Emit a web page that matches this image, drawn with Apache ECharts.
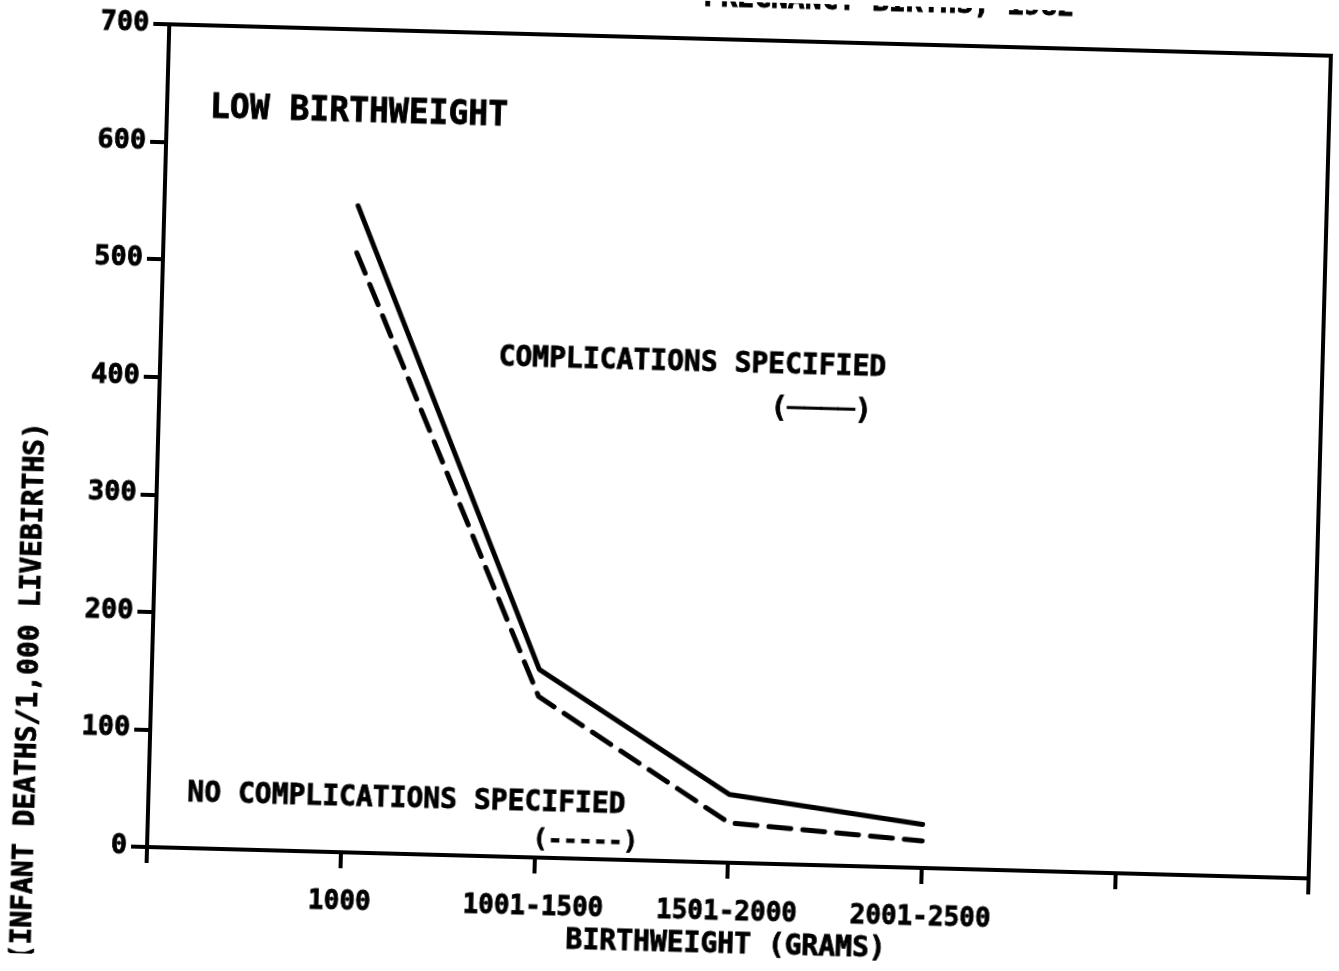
<!DOCTYPE html>
<html>
<head>
<meta charset="utf-8">
<title>Low birthweight infant deaths</title>
<script src="https://cdn.jsdelivr.net/npm/echarts/dist/echarts.min.js"></script>
<style>
    html, body { margin: 0; padding: 0; background: #fff; overflow: hidden; }
    /* the scanned original sits slightly askew */
    #chart { width: 1339px; height: 971px; transform: rotate(1.55deg); transform-origin: 50% 50%; }
</style>
</head>
<body>
<div id="chart"></div>
<script>
// categories on the x axis (placed at positions 1..4 of a 0..6 axis)
var categories = ['1000', '1001-1500', '1501-2000', '2001-2500'];
var categoryPos = [1, 2, 3, 4];
// infant deaths per 1,000 livebirths
var withComplications = [550, 160, 58, 37];
var noComplications = [510, 137, 34, 23];
var yTicks = [0, 100, 200, 300, 400, 500, 600, 700];

var FONT = "'DejaVu Sans Mono', 'Liberation Mono', monospace";

function toPairs(values){
    return values.map(function(v, i){ return [categoryPos[i], v]; });
}

// bold plotter-like text, slightly stroked to look heavier
function label(text, x, y, size, rotation){
    return {
        type: 'text',
        x: x,
        y: y,
        rotation: rotation || 0,
        style: {
            text: text,
            fill: '#000',
            stroke: '#000',
            lineWidth: 0.8,
            fontFamily: FONT,
            fontWeight: 'bold',
            fontSize: size,
            align: 'center',
            verticalAlign: 'middle',
            textAlign: 'center',
            textVerticalAlign: 'middle'
        }
    };
}

var tickText = {
    color: '#000',
    fontFamily: FONT,
    fontWeight: 'bold',
    textBorderColor: '#000',
    textBorderWidth: 0.8
};

var chart = echarts.init(document.getElementById('chart'));

var option = {
    backgroundColor: '#fff',
    animation: false,
    grid: {
        left: 157,
        right: 20,
        top: 38,
        bottom: 110,
        show: true,
        borderColor: '#000',
        borderWidth: 4
    },
    xAxis: {
        type: 'value',
        min: 0,
        max: 6,
        interval: 1,
        name: 'BIRTHWEIGHT (GRAMS)',
        nameLocation: 'middle',
        nameGap: 69,
        nameTextStyle: Object.assign({ fontSize: 28 }, tickText),
        axisLine: { lineStyle: { color: '#000', width: 4 } },
        axisTick: { show: true, inside: false, length: 16, lineStyle: { color: '#000', width: 4 } },
        splitLine: { show: false },
        axisLabel: Object.assign({
            margin: 37,
            fontSize: 26,
            formatter: function(v){
                var i = categoryPos.indexOf(v);
                return i >= 0 ? categories[i] : '';
            }
        }, tickText)
    },
    yAxis: {
        type: 'value',
        min: yTicks[0],
        max: yTicks[yTicks.length - 1],
        interval: 100,
        axisLine: { show: true, lineStyle: { color: '#000', width: 4 } },
        axisTick: { show: true, inside: false, length: 16, lineStyle: { color: '#000', width: 4 } },
        splitLine: { show: false },
        axisLabel: Object.assign({ margin: 20, fontSize: 27 }, tickText)
    },
    series: [{
        name: 'COMPLICATIONS SPECIFIED',
        type: 'line',
        data: toPairs(withComplications),
        showSymbol: false,
        lineStyle: { color: '#000', width: 5, type: 'solid', cap: 'round' }
    }, {
        name: 'NO COMPLICATIONS SPECIFIED',
        type: 'line',
        data: toPairs(noComplications),
        showSymbol: false,
        lineStyle: { color: '#000', width: 5, type: [22, 12], cap: 'round' }
    }],
    graphic: [
        // title is cut off at the top edge of the scan
        label('PREGNANCY BIRTHS, 1982', 876, -2, 28),
        label('LOW BIRTHWEIGHT', 349, 121, 33),
        label('COMPLICATIONS SPECIFIED', 689, 363, 28),
        label('(────)', 819, 407, 28),
        label('NO COMPLICATIONS SPECIFIED', 415, 807, 28),
        label('(-----)', 595, 843, 25),
        label('(INFANT DEATHS/1,000 LIVEBIRTHS)', 36, 709, 28, Math.PI / 2)
    ]
};

chart.setOption(option);
</script>
</body>
</html>
